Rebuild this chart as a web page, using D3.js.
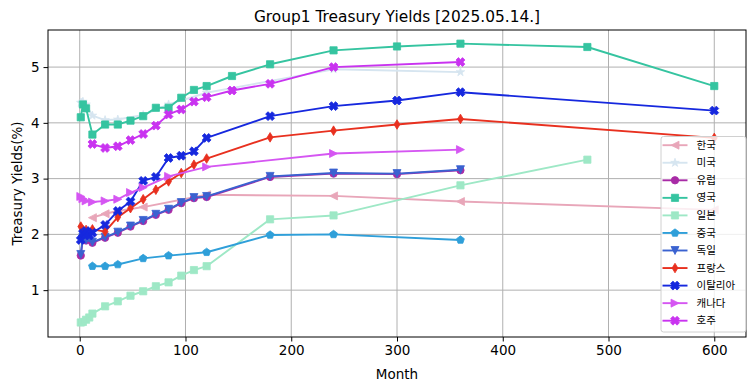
<!DOCTYPE html>
<html>
<head>
<meta charset="utf-8">
<script src="https://cdn.jsdelivr.net/npm/d3@7"></script>
<style>
html,body{margin:0;padding:0;background:#fff;}
svg{display:block;}
text{font-family:"DejaVu Sans",sans-serif;fill:#000;}
.kr{font-family:"Noto Sans CJK KR","DejaVu Sans",sans-serif;}
</style>
</head>
<body>
<svg id="chart" width="755" height="391"></svg>
<script>
// ---- data ----
const seriesNames = ["한국","미국","유럽","영국","일본","중국","독일","프랑스","이탈리아","캐나다","호주"];
const koreaMonths = [12,24,36,60,120,240,360,600];
const koreaYields = [2.30,2.37,2.42,2.49,2.71,2.69,2.59,2.44];
const usMonths = [1,2,3,6,12,24,36,60,84,120,240,360];
const usYields = [4.36,4.36,4.38,4.33,4.13,4.05,4.06,4.14,4.33,4.54,4.96,4.91];
const euMonths = [1,3,6,12,24,36,48,60,72,84,96,108,120,180,240,300,360];
const euYields = [1.62,1.93,1.89,1.85,1.94,2.03,2.14,2.24,2.35,2.44,2.56,2.65,2.67,3.03,3.09,3.08,3.15];
const ukMonths = [1,3,6,12,24,36,48,60,72,84,96,108,120,144,180,240,300,360,480,600];
const ukYields = [4.10,4.33,4.26,3.79,3.97,3.97,4.04,4.12,4.27,4.27,4.45,4.59,4.66,4.84,5.05,5.30,5.37,5.42,5.36,4.66];
const jpMonths = [1,3,6,9,12,24,36,48,60,72,84,96,108,120,180,240,360,480];
const jpYields = [0.42,0.43,0.47,0.51,0.58,0.71,0.80,0.90,0.98,1.07,1.14,1.26,1.36,1.43,2.27,2.34,2.88,3.34];
const cnMonths = [12,24,36,60,84,120,180,240,360];
const cnYields = [1.43,1.43,1.46,1.57,1.62,1.68,1.99,2.00,1.90];
const deMonths = [1,3,6,12,24,36,48,60,72,84,96,108,120,180,240,300,360];
const deYields = [1.64,1.95,1.90,1.86,1.95,2.04,2.15,2.25,2.36,2.45,2.57,2.66,2.68,3.04,3.10,3.09,3.16];
const frMonths = [1,3,6,12,24,36,48,60,72,84,96,108,120,180,240,300,360,600];
const frYields = [2.14,2.08,2.08,2.09,2.05,2.31,2.47,2.63,2.80,2.95,3.10,3.25,3.36,3.74,3.86,3.97,4.07,3.73];
const itMonths = [1,3,6,9,12,24,36,48,60,72,84,96,108,120,180,240,300,360,600];
const itYields = [1.90,2.02,2.06,1.98,2.03,2.17,2.42,2.59,2.96,3.03,3.37,3.41,3.49,3.73,4.12,4.30,4.40,4.55,4.22];
const caMonths = [1,3,6,12,24,36,48,60,84,120,240,360];
const caYields = [2.68,2.64,2.60,2.58,2.60,2.63,2.75,2.84,3.04,3.21,3.45,3.52];
const auMonths = [12,24,36,48,60,72,84,96,108,120,144,180,240,360];
const auYields = [3.62,3.55,3.58,3.69,3.80,3.95,4.15,4.24,4.38,4.46,4.58,4.70,5.00,5.09];
const xTicks = [0,100,200,300,400,500,600];
const yTicks = [1,2,3,4,5];
const titleText = "Group1 Treasury Yields [2025.05.14.]";
const xLabel = "Month";
const yLabel = "Treasury Yields(%)";

// ---- styling ----
const colors = ["#e8a6b9","#d6e5f0","#a82ba6","#35c4a0","#9ee8c6","#2f9fd9","#3a62d0","#e8301f","#1628de","#d556f2","#c933f0"];
const markers = ["tl","star","circle","square","square","pentagon","tv","thind","X","tr","X"];

const months = [koreaMonths,usMonths,euMonths,ukMonths,jpMonths,cnMonths,deMonths,frMonths,itMonths,caMonths,auMonths];
const yields = [koreaYields,usYields,euYields,ukYields,jpYields,cnYields,deYields,frYields,itYields,caYields,auYields];
const series = seriesNames.map((n,i)=>({name:n,color:colors[i],marker:markers[i],
  pts:months[i].map((m,j)=>({x:m,y:yields[i][j]}))}));

const W=755,H=391;
const L=48,R=746,T=30,B=337;
const x = d3.scaleLinear().domain([-30,630]).range([L,R]);
const y = d3.scaleLinear().domain([0.16,5.665]).range([B,T]);

const svg = d3.select("#chart");

function poly(p){return "M"+p.map(q=>q[0].toFixed(2)+","+q[1].toFixed(2)).join("L")+"Z";}
function rot(p,a){const c=Math.cos(a),s=Math.sin(a);return p.map(q=>[q[0]*c-q[1]*s,q[0]*s+q[1]*c]);}
function markerPath(t){
  const r=4;
  switch(t){
    case "square": return poly([[-3.6,-3.6],[3.6,-3.6],[3.6,3.6],[-3.6,3.6]]);
    case "circle": return d3.symbol(d3.symbolCircle,Math.PI*3.7*3.7)();
    case "tl": return poly([[-r,0],[r,-r],[r,r]]);
    case "tr": return poly([[r,0],[-r,-r],[-r,r]]);
    case "tv": return poly([[0,r],[-r,-r],[r,-r]]);
    case "thind": return poly([[0,-4.8],[2.9,0],[0,4.8],[-2.9,0]]);
    case "pentagon": {const p=[];for(let k=0;k<5;k++){const a=-Math.PI/2+k*2*Math.PI/5;p.push([4.1*Math.cos(a),4.1*Math.sin(a)]);}return poly(p);}
    case "star": {const p=[];for(let k=0;k<10;k++){const a=-Math.PI/2+k*Math.PI/5;const rr=k%2?4.5*0.381966:4.5;p.push([rr*Math.cos(a),rr*Math.sin(a)]);}return poly(p);}
    case "X": {const a=4.6,w=1.7;const p=[[w,a],[w,w],[a,w],[a,-w],[w,-w],[w,-a],[-w,-a],[-w,-w],[-a,-w],[-a,w],[-w,w],[-w,a]];return poly(rot(p,Math.PI/4));}
  }
}

// grid
const g = svg.append("g");
g.selectAll(".gx").data(xTicks).enter().append("line")
  .attr("x1",d=>x(d)).attr("x2",d=>x(d)).attr("y1",T).attr("y2",B)
  .attr("stroke","#b0b0b0").attr("stroke-width",1);
g.selectAll(".gy").data(yTicks).enter().append("line")
  .attr("x1",L).attr("x2",R).attr("y1",d=>y(d)).attr("y2",d=>y(d))
  .attr("stroke","#b0b0b0").attr("stroke-width",1);

// series
const line = d3.line().x(d=>x(d.x)).y(d=>y(d.y));
const sg = svg.append("g");
series.forEach(s=>{
  const gs = sg.append("g");
  gs.append("path").attr("d",line(s.pts)).attr("fill","none")
    .attr("stroke",s.color).attr("stroke-width",1.9).attr("stroke-linejoin","round");
  const mp = markerPath(s.marker);
  gs.selectAll("path.m").data(s.pts).enter().append("path").attr("class","m")
    .attr("d",mp).attr("transform",d=>`translate(${x(d.x)},${y(d.y)})`)
    .attr("fill",s.color).attr("stroke",s.color).attr("stroke-width",0.8);
});

// axes
const xa = svg.append("g").attr("transform",`translate(0,${B})`)
  .call(d3.axisBottom(x).tickValues(xTicks).tickSize(4.5).tickPadding(3.5).tickFormat(d3.format("d")));
const ya = svg.append("g").attr("transform",`translate(${L},0)`)
  .call(d3.axisLeft(y).tickValues(yTicks).tickSize(4.5).tickPadding(4).tickFormat(d3.format("d")));
[xa,ya].forEach(a=>{
  a.select(".domain").remove();
  a.selectAll("text").style("font-family","DejaVu Sans").style("font-size","13.5px").attr("fill","#000");
  a.selectAll("line").attr("stroke","#000").attr("stroke-width",1);
});
// frame
svg.append("rect").attr("x",L).attr("y",T).attr("width",R-L).attr("height",B-T)
  .attr("fill","none").attr("stroke","#000").attr("stroke-width",1);

// labels
svg.append("text").attr("x",(L+R)/2).attr("y",22).attr("text-anchor","middle")
  .style("font-size","15.4px").text(titleText);
svg.append("text").attr("x",(L+R)/2).attr("y",378.5).attr("text-anchor","middle")
  .style("font-size","13.5px").text(xLabel);
svg.append("text").attr("transform",`translate(21.5,${(T+B)/2}) rotate(-90)`).attr("text-anchor","middle")
  .style("font-size","13.5px").text(yLabel);

// legend
const lg = svg.append("g");
lg.append("rect").attr("x",661).attr("y",136.5).attr("width",85).attr("height",195.5).attr("rx",2.5)
  .attr("fill","#fff").attr("fill-opacity",0.8).attr("stroke","#d0d0d0").attr("stroke-width",1);
series.forEach((s,i)=>{
  const yy = 145.2 + i*17.55;
  lg.append("line").attr("x1",662.5).attr("x2",687.5).attr("y1",yy).attr("y2",yy)
    .attr("stroke",s.color).attr("stroke-width",1.9);
  lg.append("path").attr("d",markerPath(s.marker)).attr("transform",`translate(675,${yy})`)
    .attr("fill",s.color).attr("stroke",s.color).attr("stroke-width",0.8);
  lg.append("text").attr("class","kr").attr("x",696.5).attr("y",yy+3.6)
    .style("font-size","10.5px").text(s.name);
});
</script>
</body>
</html>
